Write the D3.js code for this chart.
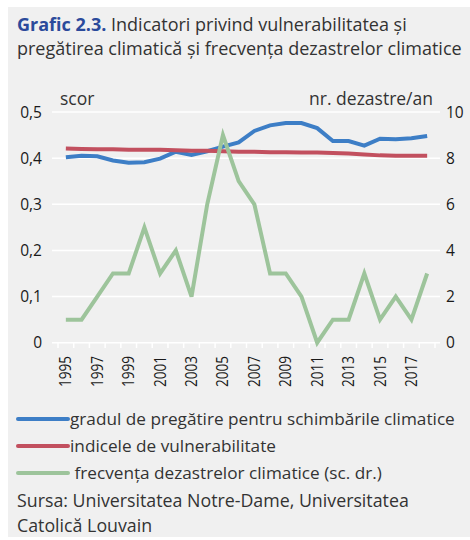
<!DOCTYPE html>
<html>
<head>
<meta charset="utf-8">
<script src="https://cdn.jsdelivr.net/npm/d3@7"></script>
<style>
  body { margin: 0; background: #fff; }
  svg { display: block; font-family: "Open Sans", "Noto Sans", sans-serif; }
</style>
</head>
<body>
<svg id="chart" width="470" height="540"></svg>
<script>
// data
var years = [1995, 1996, 1997, 1998, 1999, 2000, 2001, 2002, 2003, 2004, 2005, 2006,
             2007, 2008, 2009, 2010, 2011, 2012, 2013, 2014, 2015, 2016, 2017, 2018];
var pregatire = [0.402, 0.405, 0.404, 0.395, 0.390, 0.391, 0.399, 0.414, 0.407, 0.415, 0.425, 0.434,
                 0.459, 0.471, 0.476, 0.476, 0.465, 0.437, 0.437, 0.427, 0.442, 0.441, 0.443, 0.448];
var vulnerabilitate = [0.421, 0.420, 0.419, 0.419, 0.418, 0.418, 0.418, 0.417, 0.416, 0.416, 0.415, 0.414,
                       0.414, 0.413, 0.413, 0.412, 0.412, 0.411, 0.410, 0.408, 0.406, 0.405, 0.405, 0.405];
var dezastre = [1, 1, 2, 3, 3, 5, 3, 4, 2, 6, 9, 7, 6, 3, 3, 2, 0, 1, 1, 3, 1, 2, 1, 3];
var leftTicks = [0, 0.1, 0.2, 0.3, 0.4, 0.5];
var rightTicks = [0, 2, 4, 6, 8, 10];
var legendLabels = ["gradul de pregătire pentru schimbările climatice",
                    "indicele de vulnerabilitate",
                    " frecvența dezastrelor climatice (sc. dr.)"];

var colors = ["#3d7ec6", "#c2505f", "#9dc49b"];

var svg = d3.select("#chart");

svg.append("rect")
  .attr("x", 8).attr("y", 7).attr("width", 462).attr("height", 530)
  .attr("fill", "#f0f0f0");

// title
var title = svg.append("text").attr("x", 17).attr("y", 31).attr("font-size", 18).attr("fill", "#333");
title.append("tspan").attr("font-weight", "bold").attr("fill", "#2b4a9b").text("Grafic 2.3.");
title.append("tspan").text(" Indicatori privind vulnerabilitatea și");
svg.append("text").attr("x", 17).attr("y", 55).attr("font-size", 18).attr("fill", "#333")
  .text("pregătirea climatică și frecvența dezastrelor climatice");

var x = d3.scaleBand().domain(years).range([58, 435]);
var yL = d3.scaleLinear().domain([0, 0.5]).range([342.7, 112]);
var yR = d3.scaleLinear().domain([0, 10]).range([342.7, 112]);

// gridlines
svg.append("g").selectAll("line").data(leftTicks).join("line")
  .attr("x1", 52).attr("x2", 440)
  .attr("y1", function(d) { return yL(d); })
  .attr("y2", function(d) { return yL(d); })
  .attr("stroke", "#fff").attr("stroke-width", 1.5);

// x ticks at band edges
var edges = years.map(function(d) { return x(d); }).concat([x(years[years.length - 1]) + x.bandwidth()]);
svg.append("g").selectAll("line").data(edges).join("line")
  .attr("x1", function(d) { return d; }).attr("x2", function(d) { return d; })
  .attr("y1", 342.7).attr("y2", 348)
  .attr("stroke", "#fff").attr("stroke-width", 1.5);

// left axis labels
svg.append("g").selectAll("text").data(leftTicks).join("text")
  .attr("x", 42).attr("y", function(d) { return yL(d) + 5.5; })
  .attr("text-anchor", "end").attr("font-size", 15.5).attr("fill", "#1a1a1a")
  .text(function(d) { return d === 0 ? "0" : d3.format(".1f")(d).replace(".", ","); });

// right axis labels
svg.append("g").selectAll("text").data(rightTicks).join("text")
  .attr("x", 446).attr("y", function(d) { return yR(d) + 5.5; })
  .attr("font-size", 15.5).attr("fill", "#1a1a1a")
  .text(function(d) { return d; });

// year labels
svg.append("g").selectAll("text").data(years.filter(function(d) { return d % 2 === 1; })).join("text")
  .attr("transform", function(d) {
    return "translate(" + (x(d) + x.bandwidth() / 2 + 5.5) + ",356) rotate(-90)";
  })
  .attr("text-anchor", "end").attr("font-size", 15.5).attr("fill", "#1a1a1a")
  .attr("textLength", 31).attr("lengthAdjust", "spacingAndGlyphs")
  .text(function(d) { return d; });

svg.append("text").attr("x", 60).attr("y", 105).attr("font-size", 17.5).attr("fill", "#333").text("scor");
svg.append("text").attr("x", 433).attr("y", 105).attr("text-anchor", "end")
  .attr("font-size", 17.5).attr("fill", "#333").text("nr. dezastre/an");

var cx = function(d, i) { return x(years[i]) + x.bandwidth() / 2; };

var lineL = d3.line().x(cx).y(function(d) { return yL(d); });
var lineR = d3.line().x(cx).y(function(d) { return yR(d); });

svg.append("path").datum(pregatire).attr("d", lineL)
  .attr("fill", "none").attr("stroke", colors[0]).attr("stroke-width", 4);
svg.append("path").datum(vulnerabilitate).attr("d", lineL)
  .attr("fill", "none").attr("stroke", colors[1]).attr("stroke-width", 4);
svg.append("path").datum(dezastre).attr("d", lineR)
  .attr("fill", "none").attr("stroke", colors[2]).attr("stroke-width", 4);

// legend
var leg = svg.append("g").selectAll("g").data(legendLabels).join("g")
  .attr("transform", function(d, i) { return "translate(18," + [419, 446, 473][i] + ")"; });
leg.append("line").attr("x1", 0).attr("x2", 50)
  .attr("stroke", function(d, i) { return colors[i]; })
  .attr("stroke-width", 4).attr("stroke-linecap", "round");
leg.append("text").attr("x", 52).attr("y", 6).attr("font-size", 17.2).attr("fill", "#333")
  .attr("xml:space", "preserve")
  .text(function(d) { return d; });

svg.append("text").attr("x", 17).attr("y", 507).attr("font-size", 17.8).attr("fill", "#333")
  .text("Sursa: Universitatea Notre-Dame, Universitatea");
svg.append("text").attr("x", 17).attr("y", 532).attr("font-size", 17.8).attr("fill", "#333")
  .text("Catolică Louvain");
</script>
</body>
</html>
